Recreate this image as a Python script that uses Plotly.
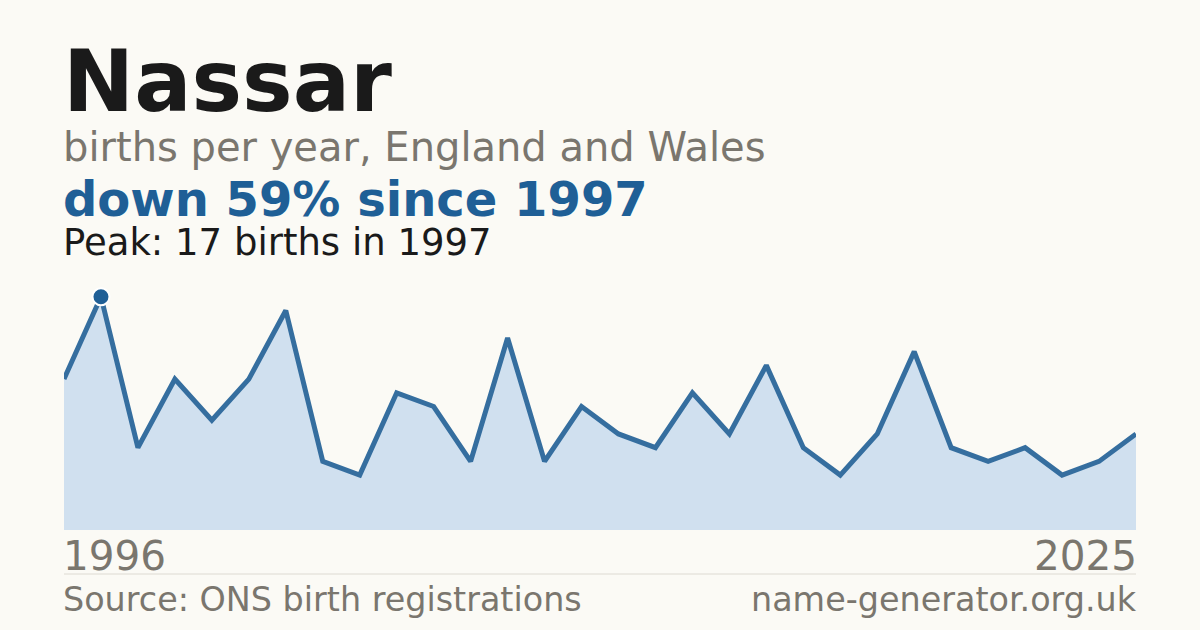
import plotly.graph_objects as go

years = list(range(1996, 2026))
births = [11, 17, 6, 11, 8, 11, 16, 5, 4, 10, 9, 5, 14, 5, 9, 7, 6, 10, 7, 12,
          6, 4, 7, 13, 6, 5, 6, 4, 5, 7]

peak_year = 1997
peak_value = 17

title = "Nassar"
subtitle = "births per year, England and Wales"
headline = "down 59% since 1997"
peak_text = "Peak: 17 births in 1997"
source = "Source: ONS birth registrations"
site = "name-generator.org.uk"

BG = "#fbfaf5"
BLUE = "#1f5f96"
GREY = "#7a766e"
FONT = "DejaVu Sans"

W, H = 1200, 630
TOP, BOTTOM = 270, 530


def py(pixel_y):
    # pixel row -> paper y (plot area spans TOP..BOTTOM)
    return (BOTTOM - pixel_y) / (BOTTOM - TOP)


fig = go.Figure()
fig.add_trace(go.Scatter(
    x=years, y=births, mode="lines",
    line=dict(color="#356e9f", width=5),
    fill="tozeroy", fillcolor="#d0e0ef",
    hoverinfo="skip",
))
fig.add_trace(go.Scatter(
    x=[peak_year], y=[peak_value], mode="markers",
    marker=dict(color=BLUE, size=17, line=dict(color="white", width=2)),
    hoverinfo="skip",
))

texts = [
    (title, 82, 85, "#1a1a1a", True, "left", 0),
    (subtitle, 147, 40, GREY, False, "left", 0),
    (headline, 199, 48, BLUE, True, "left", 0),
    (peak_text, 242, 37, "#1a1a1a", False, "left", 0),
    (str(years[0]), 556, 40.5, GREY, False, "left", 0),
    (str(years[-1]), 556, 40.5, GREY, False, "right", 1),
    (source, 599, 33.4, GREY, False, "left", 0),
    (site, 599, 33.4, GREY, False, "right", 1),
]
for text, y, size, color, bold, anchor, x in texts:
    fig.add_annotation(
        text=f"<b>{text}</b>" if bold else text,
        xref="paper", yref="paper", x=x, y=py(y),
        xanchor=anchor, yanchor="middle", showarrow=False,
        xshift=-3 if anchor == "left" else 3,
        font=dict(family=FONT, size=size, color=color),
    )

fig.add_shape(type="line", xref="paper", yref="paper",
              x0=0, x1=1, y0=py(574), y1=py(574),
              line=dict(color="#dddad2", width=1))

fig.update_xaxes(visible=False, range=[years[0], years[-1]])
fig.update_yaxes(visible=False, range=[0, 18.95])
fig.update_layout(
    width=W, height=H,
    margin=dict(l=64, r=64, t=TOP, b=H - BOTTOM),
    paper_bgcolor=BG, plot_bgcolor=BG,
    showlegend=False,
)

fig.write_html("out.html", config={"displayModeBar": False},
               post_script="document.body.style.margin='0';")
